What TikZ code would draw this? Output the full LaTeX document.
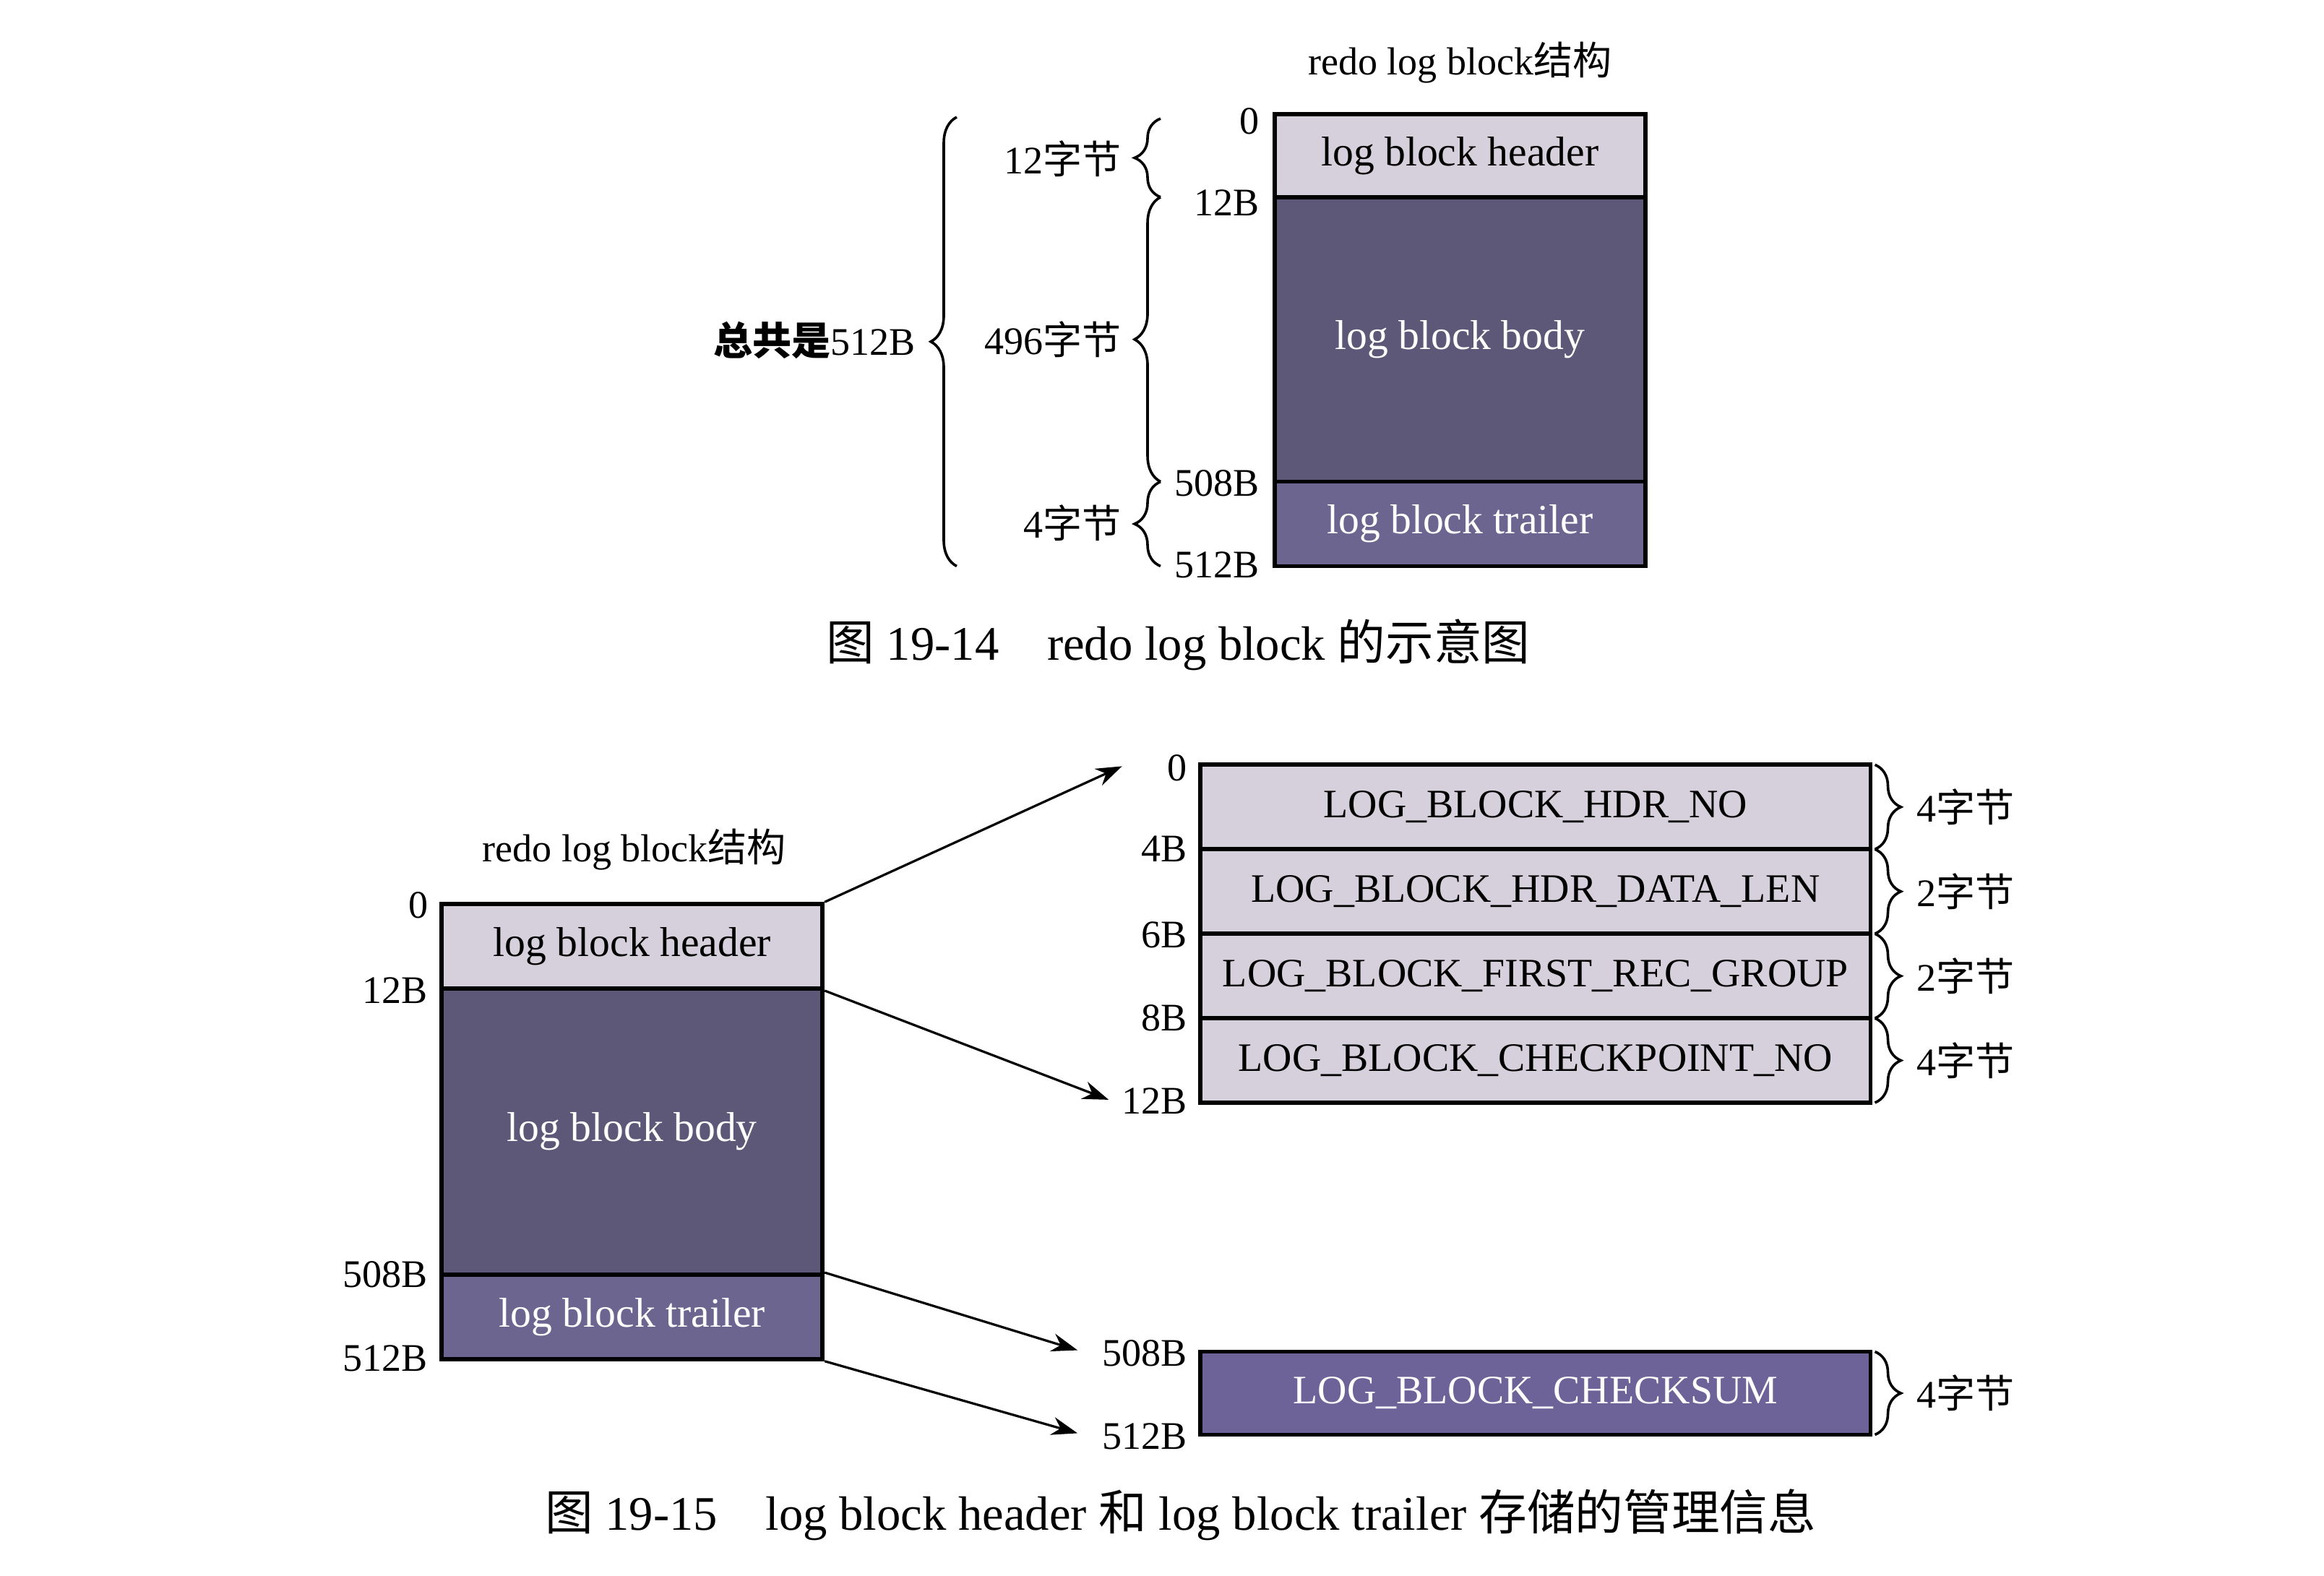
\documentclass[tikz,border=0pt]{standalone}
\usepackage{fontspec}
\setmainfont{Liberation Serif}
\newfontfamily\cjk{Noto Sans CJK SC}
\usepackage{tikz}
\usetikzlibrary{arrows.meta,decorations.pathreplacing}
\definecolor{hdrfill}{HTML}{D6CFDC}
\definecolor{bodyfill}{HTML}{5D5878}
\definecolor{trlfill}{HTML}{6B6590}
\definecolor{sumfill}{HTML}{6E6398}
\tikzset{
  seg/.style={draw=black, line width=1.6pt, inner sep=0pt, font=\fontsize{16}{19}\selectfont},
  hdrseg/.style={seg, fill=hdrfill, text=black},
  bodyseg/.style={seg, fill=bodyfill, text=white},
  trlseg/.style={seg, fill=trlfill, text=white},
  field/.style={seg, fill=hdrfill, text=black, minimum width=9.04cm, minimum height=1.14cm, font=\fontsize{15.5}{18}\selectfont},
  off/.style={anchor=east, inner sep=0pt, font=\fontsize{15}{18}\selectfont},
  sz/.style={anchor=west, inner sep=0pt, font=\fontsize{15}{18}\selectfont},
  brc/.style={decorate, decoration={brace, amplitude=0.35cm}, line width=1pt},
  arr/.style={-{Stealth[length=10pt,width=7pt]}, line width=0.9pt},
  ttl/.style={font=\fontsize{15}{18}\selectfont},
  figcap/.style={font=\fontsize{18.5}{22}\selectfont}
}
\begin{document}
\begin{tikzpicture}
  \useasboundingbox (0,0) rectangle (31.36,-21.26);

  % figure 19-14
  \node[ttl] (ttitle) at (19.7,-0.84) {redo log block{\cjk 结构}};
  \node[hdrseg, minimum width=5cm, minimum height=1.12cm] (thdr) at (19.7,-2.1) {log block header};
  \node[bodyseg, minimum width=5cm, minimum height=3.84cm] (tbody) at (19.7,-4.58) {log block body};
  \node[trlseg, minimum width=5cm, minimum height=1.14cm] (ttrl) at (19.7,-7.07) {log block trailer};

  \node[off] (t0) at (17.0,-1.64) {0};
  \node[off] (t12) at (17.0,-2.74) {12B};
  \node[off] (t508) at (17.0,-6.52) {508B};
  \node[off] (t512) at (17.0,-7.62) {512B};

  \draw[brc] (15.66,-2.66) -- (15.66,-1.6);
  \draw[brc] (15.66,-6.5) -- (15.66,-2.66);
  \draw[brc] (15.66,-7.64) -- (15.66,-6.5);
  \node[off] (b12) at (15.14,-2.14) {12{\cjk 字节}};
  \node[off] (b496) at (15.14,-4.58) {496{\cjk 字节}};
  \node[off] (b4) at (15.14,-7.06) {4{\cjk 字节}};

  \draw[brc] (12.91,-7.64) -- (12.91,-1.58);
  \node[off] (total) at (12.36,-4.59) {{\cjk\bfseries 总共是}512B};

  \node[figcap] (cap14) at (15.9,-8.7) {{\cjk 图} 19-14\quad redo log block {\cjk 的示意图}};

  % figure 19-15
  \node[ttl] (btitle) at (8.56,-11.46) {redo log block{\cjk 结构}};
  \node[hdrseg, minimum width=5.14cm, minimum height=1.14cm] (lhdr) at (8.53,-12.77) {log block header};
  \node[bodyseg, minimum width=5.14cm, minimum height=3.86cm] (lbody) at (8.53,-15.27) {log block body};
  \node[trlseg, minimum width=5.14cm, minimum height=1.14cm] (ltrl) at (8.53,-17.77) {log block trailer};

  \node[off] (l0) at (5.78,-12.22) {0};
  \node[off] (l12) at (5.78,-13.37) {12B};
  \node[off] (l508) at (5.78,-17.2) {508B};
  \node[off] (l512) at (5.78,-18.33) {512B};

  \node[field] (f1) at (20.72,-10.89) {LOG\_BLOCK\_HDR\_NO};
  \node[field] (f2) at (20.72,-12.03) {LOG\_BLOCK\_HDR\_DATA\_LEN};
  \node[field] (f3) at (20.72,-13.17) {LOG\_BLOCK\_FIRST\_REC\_GROUP};
  \node[field] (f4) at (20.72,-14.31) {LOG\_BLOCK\_CHECKPOINT\_NO};
  \node[field, fill=sumfill, text=white, minimum height=1.12cm] (fsum) at (20.72,-18.8) {LOG\_BLOCK\_CHECKSUM};

  \node[off] (r0) at (16.02,-10.36) {0};
  \node[off] (r4) at (16.02,-11.46) {4B};
  \node[off] (r6) at (16.02,-12.62) {6B};
  \node[off] (r8) at (16.02,-13.74) {8B};
  \node[off] (r12) at (16.02,-14.86) {12B};
  \node[off] (r508) at (16.02,-18.26) {508B};
  \node[off] (r512) at (16.02,-19.38) {512B};

  \draw[brc] (25.3,-10.32) -- (25.3,-11.46);
  \draw[brc] (25.3,-11.46) -- (25.3,-12.6);
  \draw[brc] (25.3,-12.6) -- (25.3,-13.74);
  \draw[brc] (25.3,-13.74) -- (25.3,-14.88);
  \draw[brc] (25.3,-18.24) -- (25.3,-19.36);
  \node[sz] (s1) at (25.86,-10.89) {4{\cjk 字节}};
  \node[sz] (s2) at (25.86,-12.03) {2{\cjk 字节}};
  \node[sz] (s3) at (25.86,-13.17) {2{\cjk 字节}};
  \node[sz] (s4) at (25.86,-14.31) {4{\cjk 字节}};
  \node[sz] (s5) at (25.86,-18.8) {4{\cjk 字节}};

  \coordinate (e0) at (15.14,-10.34);
  \coordinate (e12) at (14.96,-14.84);
  \coordinate (e508) at (14.54,-18.22);
  \coordinate (e512) at (14.54,-19.34);
  \draw[arr] (lhdr.north east) -- (e0);
  \draw[arr] (lhdr.south east) -- (e12);
  \draw[arr] (ltrl.north east) -- (e508);
  \draw[arr] (ltrl.south east) -- (e512);

  \node[figcap] (cap15) at (15.93,-20.44) {{\cjk 图} 19-15\quad log block header {\cjk 和} log block trailer {\cjk 存储的管理信息}};
\end{tikzpicture}
\end{document}
